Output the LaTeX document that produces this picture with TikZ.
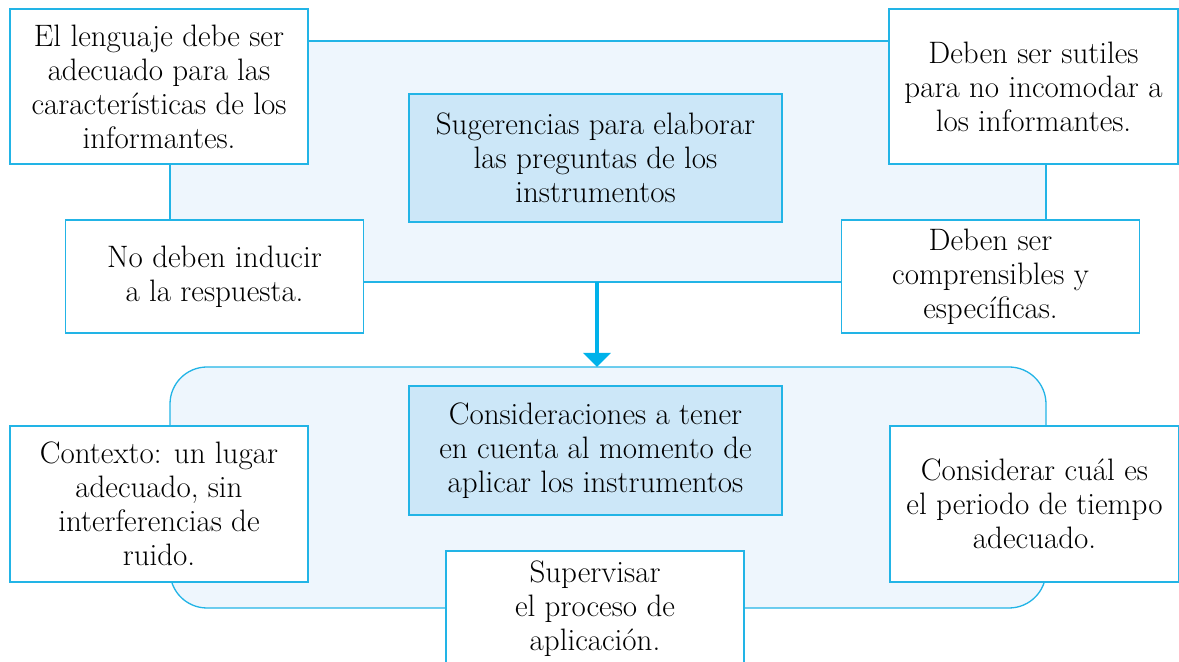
\documentclass[tikz,border=0pt]{standalone}
\usepackage{fontspec}
\usepackage{xcolor}
\usepackage{tikz}
\usetikzlibrary{arrows.meta}

\definecolor{cianborde}{HTML}{22B4E6}
\definecolor{cianflecha}{HTML}{00B2EA}
\definecolor{fondoclaro}{HTML}{EEF6FD}
\definecolor{fondotitulo}{HTML}{CCE7F8}

\begin{document}
\begin{tikzpicture}[x=1pt,y=1pt,
	txt/.style={font=\fontsize{15.5}{17}\selectfont, align=center, inner sep=0pt, outer sep=0pt},
	caja/.style={txt, draw=cianborde, line width=0.65pt, fill=white, minimum width=149pt},
	titulo/.style={txt, draw=cianborde, line width=0.65pt, fill=fondotitulo, minimum width=186.5pt, minimum height=64pt},
	fondo/.style={draw=cianborde, line width=0.65pt, fill=fondoclaro, inner sep=0pt, outer sep=0pt, minimum width=438pt, minimum height=120.5pt},
	flecha/.style={cianflecha, line width=2pt, -{Triangle[width=13.5pt,length=7pt]}}]
\useasboundingbox (0,0) rectangle (589.5,-331);
\coordinate (A) at (304,-80.75);
\coordinate (B) at (304,-243.75);
\coordinate (C) at (79.5,-43.25);
\coordinate (D) at (516.75,-43.25);
\coordinate (E) at (107.25,-138.25);
\coordinate (F) at (495.25,-138.25);
\coordinate (G) at (297.75,-79);
\coordinate (H) at (297.75,-225.25);
\coordinate (I) at (79.5,-252);
\coordinate (J) at (517.25,-252);
\coordinate (K) at (297.5,-304.5);
% fondos
\draw (A) node[fondo] (fsug) {};
\draw (B) node[fondo, rounded corners=18.5pt] (fcon) {};
\draw[flecha] ([xshift=-5.5pt]fsug.south) -- ([xshift=-5.5pt]fcon.north);
% primer bloque
\draw (G) node[titulo] (sug) {Sugerencias para elaborar\\las preguntas de los\\instrumentos};
\draw (C) node[caja, minimum height=77.5pt] (leng) {El lenguaje debe ser\\adecuado para las\\características de los\\informantes.};
\draw (D) node[caja, minimum width=144.5pt, minimum height=77.5pt] (sut) {Deben ser sutiles\\para no incomodar a\\los informantes.};
\draw (E) node[caja, minimum height=56.5pt] (ind) {No deben inducir\\a la respuesta.};
\draw (F) node[caja, minimum height=56.5pt] (comp) {Deben ser\\comprensibles y\\específicas.};
% segundo bloque
\draw (H) node[titulo, minimum height=64.5pt] (cons) {Consideraciones a tener\\en cuenta al momento de\\aplicar los instrumentos};
\draw (I) node[caja, minimum height=78pt] (ctx) {Contexto: un lugar\\adecuado, sin\\interferencias de\\ruido.};
\draw (J) node[caja, minimum width=144.5pt, minimum height=78pt] (per) {Considerar cuál es\\el periodo de tiempo\\adecuado.};
\draw (K) node[caja, minimum height=58pt] (sup) {Supervisar\\el proceso de\\aplicación.};
\end{tikzpicture}
\end{document}
